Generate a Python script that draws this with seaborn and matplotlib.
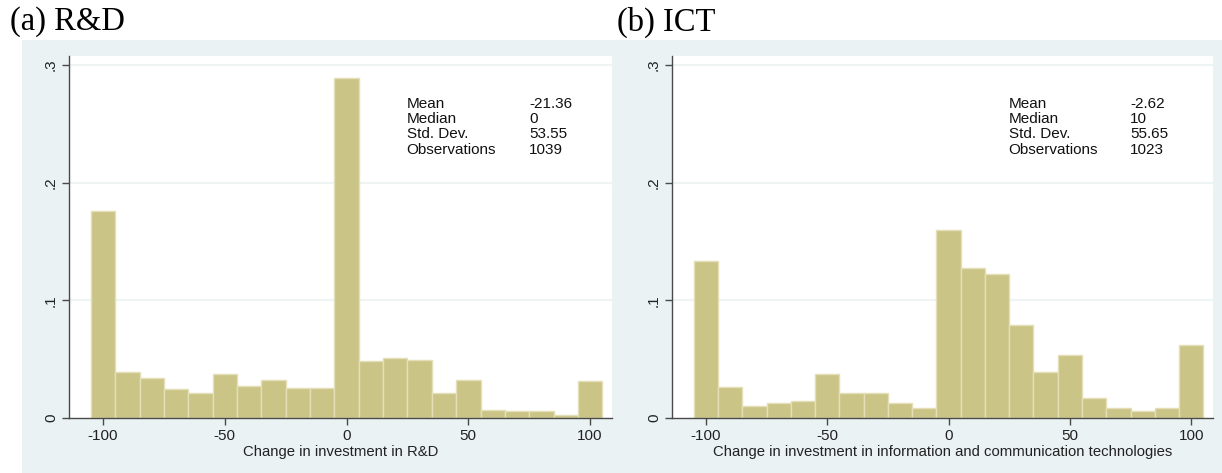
import numpy as np
import pandas as pd
import matplotlib
matplotlib.use("Agg")
import matplotlib.pyplot as plt
import seaborn as sns

# histogram bins (width 10, centred on -100 ... 100), density
BIN_CENTERS = list(range(-100, 101, 10))
RD_DENSITY = [0.1755, 0.0388, 0.0340, 0.0247, 0.0215, 0.0377, 0.0275, 0.0320, 0.0252, 0.0252,
              0.2889, 0.0485, 0.0513, 0.0496, 0.0215, 0.0320, 0.0071, 0.0060, 0.0060, 0.0023,
              0.0312]
ICT_DENSITY = [0.1330, 0.0264, 0.0099, 0.0128, 0.0147, 0.0374, 0.0215, 0.0215, 0.0128, 0.0088,
               0.1596, 0.1273, 0.1225, 0.0794, 0.0391, 0.0539, 0.0170, 0.0082, 0.0060, 0.0088,
               0.0618]

PANEL_TITLES = ["(a) R&D", "(b) ICT"]
X_LABELS = ["Change in investment in R&D",
            "Change in investment in information and communication technologies"]
STAT_NAMES = ["Mean", "Median", "Std. Dev.", "Observations"]
RD_STATS = ["-21.36", "0", "53.55", "1039"]
ICT_STATS = ["-2.62", "10", "55.65", "1023"]

X_TICKS = [-100, -50, 0, 50, 100]
Y_TICKS = [0, 0.1, 0.2, 0.3]
Y_TICK_LABELS = ["0", ".1", ".2", ".3"]

BAR_COLOR = "#CBC487"
EDGE_COLOR = "#E4DFB6"
BG_COLOR = "#EAF2F3"
GRID_COLOR = "#EEF4F4"
AXIS_COLOR = "#4A4A4A"

sns.set_theme(style="white")
plt.rcParams["font.family"] = ["Liberation Sans", "DejaVu Sans"]

W, H = 1222, 473
fig = plt.figure(figsize=(W / 100, H / 100), dpi=100)
fig.patch.set_facecolor("white")

# light blue-grey graph region behind both panels
bg = fig.add_axes([22 / W, 0, 1 - 22 / W, (H - 40) / H], zorder=-1)
bg.set_facecolor(BG_COLOR)
bg.set_xticks([])
bg.set_yticks([])
for s in bg.spines.values():
    s.set_visible(False)

panels = [
    (69, 543, RD_DENSITY, RD_STATS),
    (672, 541, ICT_DENSITY, ICT_STATS),
]

for i, (px, pw, dens, stats) in enumerate(panels):
    ax = fig.add_axes([px / W, (H - 418) / H, pw / W, (418 - 56) / H], zorder=1)
    ax.set_facecolor("white")
    df = pd.DataFrame({"x": BIN_CENTERS, "w": dens})
    sns.histplot(data=df, x="x", weights="w", binwidth=10, binrange=(-105, 105),
                 stat="count", color=BAR_COLOR, edgecolor=EDGE_COLOR,
                 linewidth=1.0, alpha=1.0, ax=ax, zorder=2)

    ax.set_xlim(-114, 109)
    ax.set_ylim(0, 0.3076)
    ax.set_xticks(X_TICKS)
    ax.set_xticklabels([str(t) for t in X_TICKS])
    ax.set_yticks(Y_TICKS)
    ax.set_yticklabels(Y_TICK_LABELS, rotation=90, va="center")
    for y in Y_TICKS[1:]:
        ax.axhline(y, color=GRID_COLOR, linewidth=1.5, zorder=1)

    for side in ["top", "right"]:
        ax.spines[side].set_visible(False)
    for side in ["left", "bottom"]:
        ax.spines[side].set_color(AXIS_COLOR)
        ax.spines[side].set_linewidth(1.0)
    ax.tick_params(axis="both", which="major", direction="out", length=5,
                   width=1, color=AXIS_COLOR, labelsize=11, labelcolor="#222222",
                   pad=3, left=True, bottom=True)

    ax.set_xlabel(X_LABELS[i], fontsize=10.7, color="#222222", labelpad=1)
    ax.set_ylabel("")

    for j, (name, val) in enumerate(zip(STAT_NAMES, stats)):
        yy = 0.868 - j * 0.0423
        ax.text(0.622, yy, name, transform=ax.transAxes, fontsize=11,
                va="center", ha="left", color="#111111")
        ax.text(0.847, yy, val, transform=ax.transAxes, fontsize=11,
                va="center", ha="left", color="#111111")

    fig.text((10 if i == 0 else 617) / W, 1 - 22 / H, PANEL_TITLES[i],
             fontsize=23.5, family="Liberation Serif", va="center", ha="left",
             color="black")

fig.savefig("out.png", dpi=100, facecolor=fig.get_facecolor())
